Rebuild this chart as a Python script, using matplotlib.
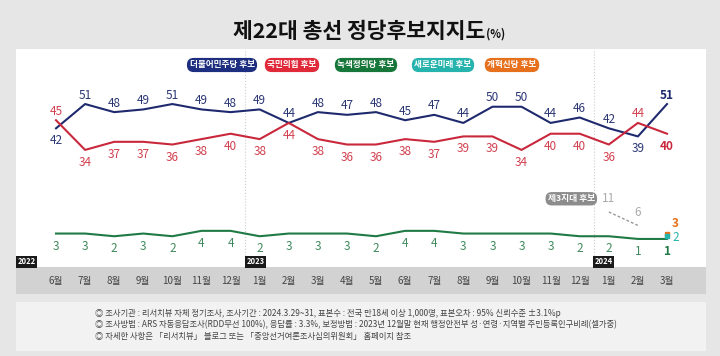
import matplotlib
matplotlib.use('Agg')
import matplotlib.pyplot as plt
from matplotlib.patches import Rectangle

plt.rcParams['font.family'] = ['Noto Sans CJK KR', 'DejaVu Sans']

months = ['6월', '7월', '8월', '9월', '10월', '11월', '12월',
          '1월', '2월', '3월', '4월', '5월', '6월', '7월', '8월', '9월', '10월', '11월', '12월',
          '1월', '2월', '3월']
dem = [42, 51, 48, 49, 51, 49, 48, 49, 44, 48, 47, 48, 45, 47, 44, 50, 50, 44, 46, 42, 39, 51]
ppp = [45, 34, 37, 37, 36, 38, 40, 38, 44, 38, 36, 36, 38, 37, 39, 39, 34, 40, 40, 36, 44, 40]
green = [3, 3, 2, 3, 2, 4, 4, 2, 3, 3, 3, 2, 4, 4, 3, 3, 3, 3, 2, 2, 1, 1]
third_idx = [19, 20]
third = [11, 6]
newfuture = 2
reform = 3
years = ['2022', '2023', '2024']
year_idx = [None, 6.5, 18.5]
legend_names = ['더불어민주당 후보', '국민의힘 후보', '녹색정의당 후보', '새로운미래 후보', '개혁신당 후보']
legend_colors = ['#1d2d80', '#e02a3a', '#17773a', '#26b3ad', '#e6701c']

W, H = 720, 356
def fx(x): return x / W
def fy(y): return 1 - y / H

fig = plt.figure(figsize=(7.2, 3.56), dpi=100, facecolor='#e6e6e6')

# background panels
for top, bot, col in [(49, 267, 'white'), (267, 294, '#d2d2d2'), (302, 351, '#f2f2f2')]:
    fig.patches.append(Rectangle((fx(16), fy(bot)), fx(690), (bot - top) / H, transform=fig.transFigure,
                                 facecolor=col, edgecolor='none', zorder=-5))

ax = fig.add_axes([fx(16), fy(267), fx(690), 218 / H])
ax.set_zorder(2)
ax.set_facecolor('none')
ax.set_xlim(-1.375, 22.34)
ax.set_ylim(-9.4, 71.4)
ax.axis('off')

x = list(range(len(months)))
navy = '#1f2a6e'
red = '#c9283c'
gcol = '#1f7a45'

for xi in year_idx[1:]:
    ax.axvline(xi, color='#cccccc', lw=0.8, ls=':', zorder=1)

ax.plot(x, dem, color=navy, lw=1.5, zorder=3)
ax.plot(x, ppp, color=red, lw=1.5, zorder=3)
ax.plot(x, green, color=gcol, lw=1.5, zorder=3)
ax.plot(third_idx, third, color='#999999', lw=1, ls=(0, (2, 1.5)), zorder=2)
ax.plot([21], [reform], marker='s', ms=2.5, color='#e6701c', zorder=4)
ax.plot([21], [newfuture], marker='s', ms=2.5, color='#26b3ad', zorder=4)

up, down = 6.5, -9
dem_pos = {0: down, 20: down}
ppp_pos = {0: up, 20: up}
for i in x:
    last = i == len(x) - 1
    ax.annotate(str(dem[i]), (i, dem[i]), xytext=(0, dem_pos.get(i, up)), textcoords='offset points',
                ha='center', va='center', fontsize=8.5, color=navy if last else '#2b3675',
                fontweight='bold' if last else 'normal', zorder=5)
    ax.annotate(str(ppp[i]), (i, ppp[i]), xytext=(0, ppp_pos.get(i, down)), textcoords='offset points',
                ha='center', va='center', fontsize=8.5, color=red if last else '#d2404f',
                fontweight='bold' if last else 'normal', zorder=5)
    ax.annotate(str(green[i]), (i, green[i]), xytext=(0, down), textcoords='offset points',
                ha='center', va='center', fontsize=8.5, color=gcol if last else '#3f8a5c',
                fontweight='bold' if last else 'normal', zorder=5)

ax.annotate(str(reform), (21, reform), xytext=(6, 7), textcoords='offset points',
            ha='center', va='center', fontsize=8.5, color='#e6701c', fontweight='bold')
ax.annotate(str(newfuture), (21, newfuture), xytext=(6, -1), textcoords='offset points',
            ha='center', va='center', fontsize=8.5, color='#26b3ad')
ax.annotate(str(third[0]), (third_idx[0], third[0]), xytext=(0, 9.5), textcoords='offset points',
            ha='center', va='center', fontsize=8.5, color='#aaaaaa')
ax.annotate(str(third[1]), (third_idx[1], third[1]), xytext=(0, 9), textcoords='offset points',
            ha='center', va='center', fontsize=8.5, color='#aaaaaa')
ax.annotate('제3지대 후보', (third_idx[0], third[0]), xytext=(-27, 9.5), textcoords='offset points',
            ha='center', va='center', fontsize=6.3, color='white', fontweight='bold',
            bbox=dict(boxstyle='round,pad=0.25,rounding_size=0.7', fc='#8c8c8c', ec='none'))

# month labels in the grey band
tr = ax.get_xaxis_transform()
for i, m in enumerate(months):
    ax.text(i, -14 / 218, m, transform=tr, ha='center', va='center', fontsize=7, color='#444444', clip_on=False)

# year tags
year_px = [16, 245, 593]
for yr, px in zip(years, year_px):
    fig.text(fx(px + 1.5), fy(262), yr, ha='left', va='center', fontsize=5.5, color='white',
             fontweight='bold', bbox=dict(boxstyle='square,pad=0.2', fc='#1a1a1a', ec='none'))

# legend pills
pill_x = [222, 292, 366, 443, 512]
for name, c, px in zip(legend_names, legend_colors, pill_x):
    fig.text(fx(px), fy(65), name, ha='center', va='center', fontsize=6.2, color='white', fontweight='bold',
             bbox=dict(boxstyle='round,pad=0.3,rounding_size=0.8', fc=c, ec='none'))

# title
fig.text(fx(485), fy(31), '제22대 총선 정당후보지지도', ha='right', va='center', fontsize=15.5,
         fontweight='bold', color='#111111')
fig.text(fx(486), fy(34), '(%)', ha='left', va='center', fontsize=8, fontweight='bold', color='#111111')

notes = [
    '◎ 조사기관 : 리서치뷰 자체 정기조사, 조사기간 : 2024.3.29~31, 표본수 : 전국 만18세 이상 1,000명, 표본오차 : 95% 신뢰수준 ±3.1%p',
    '◎ 조사방법 : ARS 자동응답조사(RDD무선 100%), 응답률 : 3.3%, 보정방법 : 2023년 12월말 현재 행정안전부 성·연령·지역별 주민등록인구비례(셀가중)',
    '◎ 자세한 사항은 「리서치뷰」 블로그 또는 「중앙선거여론조사심의위원회」 홈페이지 참조',
]
for k, t in enumerate(notes):
    fig.text(fx(95), fy(313 + 12 * k), t, ha='left', va='center', fontsize=6, color='#444444')

fig.savefig('out.png', dpi=100, facecolor=fig.get_facecolor())
